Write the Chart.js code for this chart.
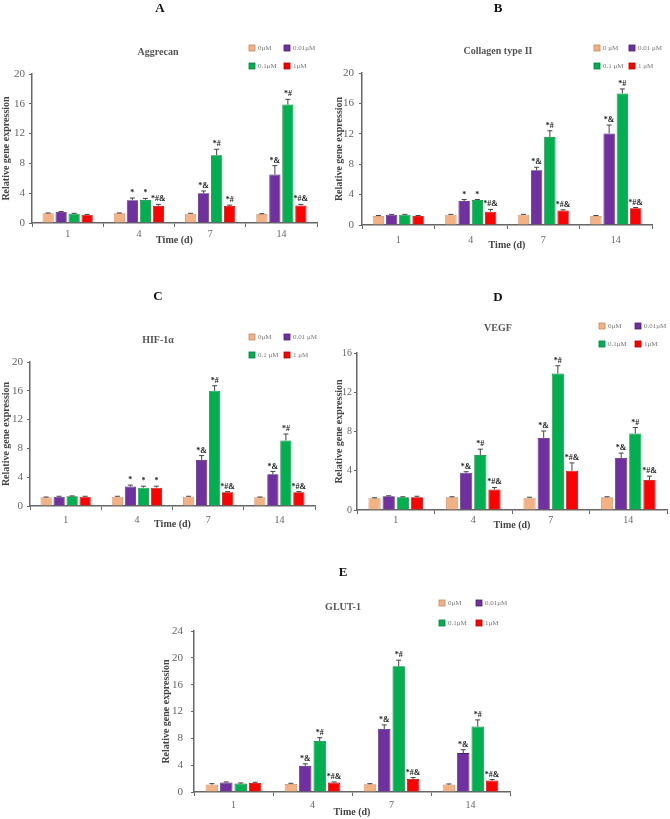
<!DOCTYPE html>
<html>
<head>
<meta charset="utf-8">
<script src="https://cdn.jsdelivr.net/npm/chart.js@4.4.1/dist/chart.umd.min.js"></script>
<style>
  body { margin: 0; background: #fff; }
  #wrap { position: relative; width: 670px; height: 819px; }
  #wrap canvas { position: absolute; left: 0; top: 0; }
</style>
</head>
<body>
<div id="wrap"></div>
<script>
// time points (days)
var days = ['1', '4', '7', '14'];

// mean values, one array per concentration: 0, 0.01, 0.1, 1 uM
var aggrecan0 = [1.3, 1.3, 1.25, 1.2];
var aggrecan001 = [1.5, 3.05, 4.0, 6.5];
var aggrecan01 = [1.25, 3.1, 9.1, 15.9];
var aggrecan1 = [1.1, 2.3, 2.3, 2.35];

var collagen0 = [1.2, 1.35, 1.35, 1.2];
var collagen001 = [1.35, 3.15, 7.2, 12.05];
var collagen01 = [1.35, 3.3, 11.6, 17.3];
var collagen1 = [1.2, 1.75, 1.9, 2.2];

var hif0 = [1.2, 1.3, 1.3, 1.2];
var hif001 = [1.3, 2.7, 6.4, 4.4];
var hif01 = [1.35, 2.55, 16.0, 9.1];
var hif1 = [1.3, 2.55, 1.9, 1.9];

var vegf0 = [1.2, 1.3, 1.25, 1.3];
var vegf001 = [1.4, 3.8, 7.35, 5.3];
var vegf01 = [1.3, 5.6, 13.9, 7.8];
var vegf1 = [1.3, 2.1, 4.0, 3.05];

var glut0 = [1.1, 1.2, 1.15, 1.1];
var glut001 = [1.4, 3.9, 9.4, 5.8];
var glut01 = [1.25, 7.6, 18.75, 9.75];
var glut1 = [1.35, 1.4, 1.95, 1.7];

// error bars (SD)
var aggrecanErr = [[0.05, 0.05, 0.05, 0.05], [0.05, 0.3, 0.3, 1.2], [0.05, 0.2, 0.8, 0.7], [0.05, 0.2, 0.1, 0.15]];
var collagenErr = [[0.05, 0.05, 0.05, 0.05], [0.05, 0.2, 0.4, 1.1], [0.05, 0.05, 0.8, 0.6], [0.05, 0.3, 0.1, 0.1]];
var hifErr = [[0.05, 0.05, 0.05, 0.05], [0.05, 0.2, 0.6, 0.4], [0.05, 0.2, 0.7, 0.9], [0.05, 0.2, 0.1, 0.1]];
var vegfErr = [[0.05, 0.05, 0.05, 0.05], [0.05, 0.1, 0.7, 0.5], [0.05, 0.6, 0.8, 0.6], [0.1, 0.2, 0.8, 0.4]];
var glutErr = [[0.15, 0.1, 0.1, 0.1], [0.1, 0.3, 0.6, 0.5], [0.1, 0.5, 0.9, 1.0], [0.1, 0.1, 0.2, 0.15]];

// significance marks
var aggrecanSig = [['', '', '', ''], ['', '*', '*&', '*&'], ['', '*', '*#', '*#'], ['', '*#&', '*#', '*#&']];
var collagenSig = [['', '', '', ''], ['', '*', '*&', '*&'], ['', '*', '*#', '*#'], ['', '*#&', '*#&', '*#&']];
var hifSig = [['', '', '', ''], ['', '*', '*&', '*&'], ['', '*', '*#', '*#'], ['', '*', '*#&', '*#&']];
var vegfSig = [['', '', '', ''], ['', '*&', '*&', '*&'], ['', '*#', '*#', '*#'], ['', '*#&', '*#&', '*#&']];
var glutSig = vegfSig;

// legend labels as written in each panel
var legendA = ['0μM', '0.01μM', '0.1μM', '1μM'];
var legendB = ['0 μM', '0.01 μM', '0.1 μM', '1 μM'];
var legendC = ['0μM', '0.01 μM', '0.1 μM', '1 μM'];
var legendD = ['0μM', '0.01μM', '0.1μM', '1μM'];
var legendE = ['0μM', '0.01μM', '0.1μM', '1μM'];

var fills = ['#F4B183', '#7030A0', '#00B050', '#FF0000'];
var borders = ['#C98A5F', '#4E1F72', '#00803A', '#B80000'];
var serif = "'Liberation Serif', 'Times New Roman', serif";

var panelDecor = {
    id: 'panelDecor',
    afterDatasetsDraw: function (chart) {
        var ctx = chart.ctx;
        var yScale = chart.scales.y;
        ctx.save();
        chart.data.datasets.forEach(function (ds, i) {
            var meta = chart.getDatasetMeta(i);
            meta.data.forEach(function (bar, j) {
                var topY = yScale.getPixelForValue(ds.data[j] + ds.errors[j]);
                var baseY = yScale.getPixelForValue(ds.data[j]);
                ctx.strokeStyle = '#444';
                ctx.lineWidth = 1;
                ctx.beginPath();
                ctx.moveTo(bar.x, baseY);
                ctx.lineTo(bar.x, topY);
                ctx.moveTo(bar.x - 2.5, topY);
                ctx.lineTo(bar.x + 2.5, topY);
                ctx.stroke();
                if (ds.sigs[j]) {
                    ctx.fillStyle = '#222';
                    ctx.font = 'bold 8px ' + serif;
                    ctx.textAlign = 'center';
                    ctx.textBaseline = 'bottom';
                    ctx.fillText(ds.sigs[j], bar.x, topY - 1);
                }
            });
        });
        ctx.restore();
    },
    afterDraw: function (chart) {
        var o = chart.options.plugins.panelDecor;
        var ctx = chart.ctx;
        ctx.save();
        ctx.textAlign = 'center';
        ctx.textBaseline = 'middle';
        ctx.fillStyle = '#111';
        ctx.font = 'bold 13px ' + serif;
        ctx.fillText(o.letter, o.letterX, o.letterY);
        ctx.fillStyle = '#555';
        ctx.font = 'bold 10px ' + serif;
        ctx.fillText(o.title, o.titleX, o.titleY);
        // 2x2 legend
        ctx.font = '7px ' + serif;
        ctx.textAlign = 'left';
        chart.data.datasets.forEach(function (ds, i) {
            var bx = o.legX[i % 2];
            var by = o.legY[Math.floor(i / 2)];
            ctx.fillStyle = ds.backgroundColor;
            ctx.fillRect(bx, by - 3, 6, 6);
            ctx.strokeStyle = ds.borderColor;
            ctx.lineWidth = 0.8;
            ctx.strokeRect(bx, by - 3, 6, 6);
            ctx.fillStyle = '#777';
            ctx.fillText(ds.label, bx + 9, by);
        });
        ctx.restore();
    }
};

function makePanel(p) {
    var canvas = document.createElement('canvas');
    canvas.width = 670;
    canvas.height = 819;
    document.getElementById('wrap').appendChild(canvas);

    var datasets = p.values.map(function (vals, i) {
        return {
            label: p.legend[i],
            data: vals,
            errors: p.errors[i],
            sigs: p.sigs[i],
            backgroundColor: fills[i],
            borderColor: borders[i],
            borderWidth: 0.8,
            categoryPercentage: 0.73,
            barPercentage: 0.86
        };
    });

    new Chart(canvas, {
        type: 'bar',
        data: { labels: days, datasets: datasets },
        plugins: [panelDecor],
        options: {
            responsive: false,
            animation: false,
            devicePixelRatio: 1,
            events: [],
            layout: {
                padding: {
                    left: p.L - p.yw,
                    top: p.T,
                    right: 670 - p.R,
                    bottom: 819 - p.B - p.xh
                }
            },
            plugins: {
                legend: { display: false },
                tooltip: { enabled: false },
                panelDecor: p.decor
            },
            scales: {
                x: {
                    afterFit: function (s) { s.height = p.xh; },
                    grid: { display: true, drawOnChartArea: false, offset: true, tickLength: 4, color: '#666', lineWidth: 1 },
                    border: { display: true, color: '#666', width: 1.5 },
                    ticks: { color: '#666', padding: p.xpad, font: { family: serif, size: 10 } },
                    title: { display: true, text: 'Time (d)', color: '#444', padding: { top: 0, bottom: 0 }, font: { family: serif, size: 10, weight: 'bold' } }
                },
                y: {
                    min: 0,
                    max: p.max,
                    afterFit: function (s) { s.width = p.yw; },
                    grid: { display: true, drawOnChartArea: false, tickLength: 3, color: '#666', lineWidth: 1 },
                    border: { display: true, color: '#666', width: 1.5 },
                    ticks: { stepSize: 4, color: '#666', padding: p.ypad, font: { family: serif, size: p.tickSize } },
                    title: { display: true, text: 'Relative gene expression', color: '#444', padding: { top: 0, bottom: 0 }, font: { family: serif, size: 10, weight: 'bold' } }
                }
            }
        }
    });
}

makePanel({
    L: 32, T: 74, R: 317, B: 223, yw: 31.4, xh: 23.4, xpad: 1, ypad: 4, tickSize: 11, max: 20,
    values: [aggrecan0, aggrecan001, aggrecan01, aggrecan1], errors: aggrecanErr, sigs: aggrecanSig, legend: legendA,
    decor: { letter: 'A', letterX: 160, letterY: 9, title: 'Aggrecan', titleX: 158, titleY: 52, legX: [249, 284], legY: [48, 66] }
});
makePanel({
    L: 362, T: 73, R: 652, B: 225, yw: 28.4, xh: 26.4, xpad: 5, ypad: 5, tickSize: 11, max: 20,
    values: [collagen0, collagen001, collagen01, collagen1], errors: collagenErr, sigs: collagenSig, legend: legendB,
    decor: { letter: 'B', letterX: 498, letterY: 9, title: 'Collagen type II', titleX: 498, titleY: 51, legX: [594, 629], legY: [48, 66] }
});
makePanel({
    L: 30, T: 362, R: 315, B: 506, yw: 30, xh: 24.4, xpad: 4, ypad: 4, tickSize: 11, max: 20,
    values: [hif0, hif001, hif01, hif1], errors: hifErr, sigs: hifSig, legend: legendC,
    decor: { letter: 'C', letterX: 158, letterY: 297, title: 'HIF-1α', titleX: 158, titleY: 340, legX: [249, 284], legY: [337, 355] }
});
makePanel({
    L: 357, T: 353, R: 667, B: 510, yw: 23.4, xh: 21.4, xpad: 0, ypad: 2, tickSize: 10, max: 16,
    values: [vegf0, vegf001, vegf01, vegf1], errors: vegfErr, sigs: vegfSig, legend: legendD,
    decor: { letter: 'D', letterX: 498, letterY: 298, title: 'VEGF', titleX: 498, titleY: 328, legX: [599, 635], legY: [326, 344] }
});
makePanel({
    L: 194, T: 631, R: 510, B: 792, yw: 33.4, xh: 26.4, xpad: 3, ypad: 8, tickSize: 11, max: 24,
    values: [glut0, glut001, glut01, glut1], errors: glutErr, sigs: glutSig, legend: legendE,
    decor: { letter: 'E', letterX: 343, letterY: 573, title: 'GLUT-1', titleX: 343, titleY: 607, legX: [439, 476], legY: [603, 623] }
});
</script>
</body>
</html>
